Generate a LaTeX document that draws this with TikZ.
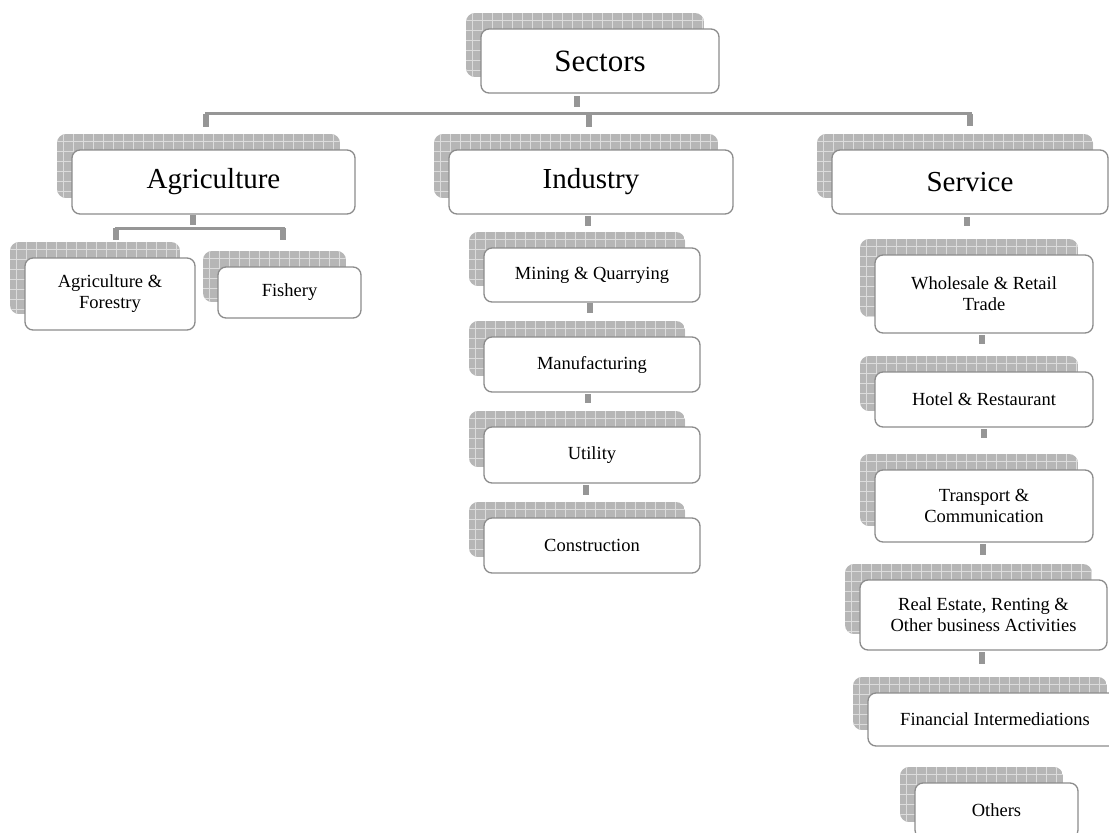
\documentclass[tikz,border=0pt]{standalone}
\usepackage{fontspec}
\setmainfont{Liberation Serif}
\usetikzlibrary{calc}
\definecolor{conn}{RGB}{150,150,150}
\definecolor{shfill}{RGB}{182,182,182}
\definecolor{shline}{RGB}{220,220,220}
\definecolor{boxline}{RGB}{140,140,140}
\tikzset{
  frontbox/.style={draw=boxline, fill=white, line width=1.3pt, rounded corners=8pt, inner sep=0pt, outer sep=0pt, align=center},
  gridln/.style={draw=shline, line width=0.9pt},
  stubln/.style={draw=conn, line width=6pt},
  barln/.style={draw=conn, line width=3pt, line cap=rect},
}
\newcommand\bigf{\fontsize{31}{34}\selectfont}
\newcommand\midf{\fontsize{29}{32}\selectfont}
\newcommand\smallf{\fontsize{18.5}{21}\selectfont}
\newcommand\orgbox[7]{%
  \pgfmathsetmacro\shL{#2-15}%
  \pgfmathsetmacro\shT{#3-16}%
  \pgfmathsetmacro\shR{#4-15}%
  \pgfmathsetmacro\shB{#5-16}%
  \pgfmathsetmacro\bxW{#4-#2}%
  \pgfmathsetmacro\bxH{#5-#3}%
  \pgfmathsetmacro\bxX{(#2+#4)/2}%
  \pgfmathsetmacro\bxY{(#3+#5)/2}%
  \begin{scope}
    \clip[rounded corners=9pt] (\shL,\shT) rectangle (\shR,\shB);
    \fill[shfill] (\shL,\shT) rectangle (\shR,\shB);
    \foreach \k in {1,...,30}{\draw[gridln] ({\shL+10*\k-4},\shT) -- ++(0,120);}
    \foreach \k in {1,...,10}{\draw[gridln] (\shL,{\shT+10*\k-3}) -- ++(320,0);}
  \end{scope}
  \node[frontbox, font=#6, minimum width=\bxW pt, minimum height=\bxH pt] (#1) at (\bxX,\bxY) {#7};
}
\begin{document}
\begin{tikzpicture}[x=1pt,y=-1pt]
\useasboundingbox (0,0) rectangle (1109,833);
\clip (0,0) rectangle (1109,833);
\fill[white] (0,0) rectangle (1109,833);

% boxes
\orgbox{sectors}{481}{29}{719}{93}{\bigf}{Sectors}
\orgbox{agri}{72}{150}{355}{214}{\midf}{Agriculture}
\orgbox{ind}{449}{150}{733}{214}{\midf}{Industry}
\orgbox{serv}{832}{150}{1108}{214}{\midf}{Service}
\orgbox{agfor}{25}{258}{195}{330}{\smallf}{Agriculture \&\\Forestry}
\orgbox{fish}{218}{267}{361}{318}{\smallf}{Fishery}
\orgbox{mining}{484}{248}{700}{302}{\smallf}{Mining \& Quarrying}
\orgbox{manuf}{484}{337}{700}{392}{\smallf}{Manufacturing}
\orgbox{util}{484}{427}{700}{483}{\smallf}{Utility}
\orgbox{constr}{484}{518}{700}{573}{\smallf}{Construction}
\orgbox{whole}{875}{255}{1093}{333}{\smallf}{Wholesale \& Retail\\Trade}
\orgbox{hotel}{875}{372}{1093}{427}{\smallf}{Hotel \& Restaurant}
\orgbox{trans}{875}{470}{1093}{542}{\smallf}{Transport \&\\Communication}
\orgbox{real}{860}{580}{1107}{650}{\smallf}{Real Estate, Renting \&\\Other business Activities}
\orgbox{fin}{868}{693}{1122}{746}{\smallf}{Financial Intermediations}
\orgbox{others}{915}{783}{1078}{838}{\smallf}{Others}

% top level connectors
\coordinate (b0L) at (206,113.5);
\coordinate (b0R) at (970,113.5);
\draw[stubln] ($(sectors.south)+(-23,3)$) -- ++(0,11);
\draw[barln] (b0L) -- (b0R);
\draw[stubln] (b0L) -- ++(0,13);
\draw[stubln] ($(ind.north)+(-2,-35)$) -- ++(0,12);
\draw[stubln] (b0R) -- ++(0,12);

% agriculture connectors
\coordinate (b1L) at (116,228);
\coordinate (b1R) at (283,228);
\draw[stubln] ($(agri.south)+(-21,1)$) -- ++(0,10);
\draw[barln] (b1L) -- (b1R);
\draw[stubln] (b1L) -- ++(0,12);
\draw[stubln] (b1R) -- ++(0,12);

% industry chain
\draw[stubln] ($(ind.south)+(-3,2)$) -- ++(0,10);
\draw[stubln] ($(mining.south)+(-2,1)$) -- ++(0,10);
\draw[stubln] ($(manuf.south)+(-4,2)$) -- ++(0,9);
\draw[stubln] ($(util.south)+(-6,2)$) -- ++(0,10);

% service chain
\draw[stubln] ($(serv.south)+(-3,3)$) -- ++(0,9);
\draw[stubln] ($(whole.south)+(-2,2)$) -- ++(0,9);
\draw[stubln] ($(hotel.south)+(0,2)$) -- ++(0,9);
\draw[stubln] ($(trans.south)+(-1,2)$) -- ++(0,11);
\draw[stubln] ($(real.south)+(-1.5,2)$) -- ++(0,12);
\end{tikzpicture}
\end{document}
